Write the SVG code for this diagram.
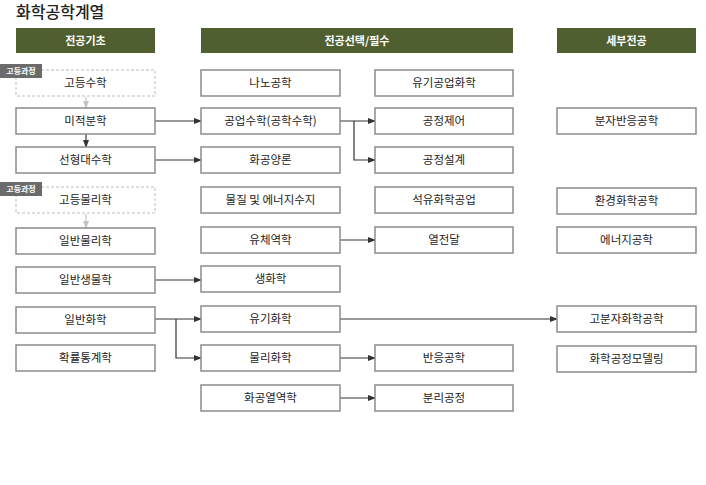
<svg xmlns="http://www.w3.org/2000/svg" width="706" height="485" viewBox="0 0 706 485">
<style>
text{font-family:"Noto Sans CJK KR","Noto Sans",sans-serif;}
.t{font-size:16px;fill:#222;font-weight:500;}
.h rect{fill:#4f5f30;}
.h text{fill:#fff;font-size:11px;text-anchor:middle;font-weight:bold;}
.n rect{fill:#fff;stroke:#8c8c8c;stroke-width:1.5;}
.n text{fill:#222;font-size:11.5px;text-anchor:middle;}
.d rect{fill:#fff;stroke:#bdbdbd;stroke-width:1;stroke-dasharray:3 2;}
.d text{fill:#222;font-size:11.5px;text-anchor:middle;}
.b rect{fill:#6b6b6b;}
.b text{fill:#fff;font-size:8px;text-anchor:middle;font-weight:bold;}
.c path{fill:none;stroke:#333;stroke-width:1.2;}
.c path.g{stroke:#c4c4c4;}
</style>
<defs>
<marker id="a" markerWidth="8" markerHeight="6" refX="7" refY="3" orient="auto" markerUnits="userSpaceOnUse"><path d="M0,0 L8,3 L0,6 Z" fill="#333"/></marker>
<marker id="ag" markerWidth="8" markerHeight="6" refX="7" refY="3" orient="auto" markerUnits="userSpaceOnUse"><path d="M0,0 L8,3 L0,6 Z" fill="#c4c4c4"/></marker>
</defs>
<text class="t" x="16" y="18">화학공학계열</text>
<g id="h1" class="h"><rect x="16" y="28" width="139" height="25"/><text x="85.5" y="44.5">전공기초</text></g>
<g id="h2" class="h"><rect x="201" y="28" width="312" height="25"/><text x="357" y="44.5">전공선택/필수</text></g>
<g id="h3" class="h"><rect x="557" y="28" width="139" height="25"/><text x="626.5" y="44.5">세부전공</text></g>

<g id="connectors" class="c">
<path class="g" d="M86,97 V108" marker-end="url(#ag)"/>
<path class="g" d="M86,214 V228" marker-end="url(#ag)"/>
<path d="M86,134 V147" marker-end="url(#a)"/>
<path d="M155,121 H201" marker-end="url(#a)"/>
<path d="M155,160 H201" marker-end="url(#a)"/>
<path d="M340,121 H375" marker-end="url(#a)"/>
<path d="M354,121 V160 H375" marker-end="url(#a)"/>
<path d="M340,240 H375" marker-end="url(#a)"/>
<path d="M155,280 H201" marker-end="url(#a)"/>
<path d="M155,319 H201" marker-end="url(#a)"/>
<path d="M176,319 V358 H201" marker-end="url(#a)"/>
<path d="M340,319 H557" marker-end="url(#a)"/>
<path d="M340,358 H375" marker-end="url(#a)"/>
<path d="M340,398 H375" marker-end="url(#a)"/>
</g>

<g id="n1" class="d"><rect x="16" y="70" width="139" height="26"/><text x="85.5" y="87">고등수학</text></g>
<g id="b1" class="b"><rect x="0" y="64" width="42" height="14"/><text x="21" y="74">고등과정</text></g>
<g id="n2" class="n"><rect x="16" y="108" width="139" height="26"/><text x="85.5" y="125">미적분학</text></g>
<g id="n3" class="n"><rect x="16" y="147" width="139" height="26"/><text x="85.5" y="164">선형대수학</text></g>
<g id="n4" class="d"><rect x="16" y="187" width="139" height="26"/><text x="85.5" y="204">고등물리학</text></g>
<g id="b2" class="b"><rect x="0" y="182" width="42" height="14"/><text x="21" y="192">고등과정</text></g>
<g id="n5" class="n"><rect x="16" y="228" width="139" height="26"/><text x="85.5" y="245">일반물리학</text></g>
<g id="n6" class="n"><rect x="16" y="267" width="139" height="26"/><text x="85.5" y="284">일반생물학</text></g>
<g id="n7" class="n"><rect x="16" y="307" width="139" height="26"/><text x="85.5" y="324">일반화학</text></g>
<g id="n8" class="n"><rect x="16" y="345" width="139" height="26"/><text x="85.5" y="362">확률통계학</text></g>

<g id="m1" class="n"><rect x="201" y="70" width="139" height="26"/><text x="270.5" y="87">나노공학</text></g>
<g id="m2" class="n"><rect x="201" y="108" width="139" height="26"/><text x="270.5" y="125">공업수학(공학수학)</text></g>
<g id="m3" class="n"><rect x="201" y="147" width="139" height="26"/><text x="270.5" y="164">화공양론</text></g>
<g id="m4" class="n"><rect x="201" y="187" width="139" height="26"/><text x="270.5" y="204">물질 및 에너지수지</text></g>
<g id="m5" class="n"><rect x="201" y="227" width="139" height="26"/><text x="270.5" y="244">유체역학</text></g>
<g id="m6" class="n"><rect x="201" y="266" width="139" height="26"/><text x="270.5" y="283">생화학</text></g>
<g id="m7" class="n"><rect x="201" y="306" width="139" height="26"/><text x="270.5" y="323">유기화학</text></g>
<g id="m8" class="n"><rect x="201" y="345" width="139" height="26"/><text x="270.5" y="362">물리화학</text></g>
<g id="m9" class="n"><rect x="201" y="385" width="139" height="26"/><text x="270.5" y="402">화공열역학</text></g>

<g id="r1" class="n"><rect x="375" y="70" width="138" height="26"/><text x="444" y="87">유기공업화학</text></g>
<g id="r2" class="n"><rect x="375" y="108" width="138" height="26"/><text x="444" y="125">공정제어</text></g>
<g id="r3" class="n"><rect x="375" y="147" width="138" height="26"/><text x="444" y="164">공정설계</text></g>
<g id="r4" class="n"><rect x="375" y="187" width="138" height="26"/><text x="444" y="204">석유화학공업</text></g>
<g id="r5" class="n"><rect x="375" y="227" width="138" height="26"/><text x="444" y="244">열전달</text></g>
<g id="r6" class="n"><rect x="375" y="345" width="138" height="26"/><text x="444" y="362">반응공학</text></g>
<g id="r7" class="n"><rect x="375" y="385" width="138" height="26"/><text x="444" y="402">분리공정</text></g>

<g id="s1" class="n"><rect x="557" y="108" width="139" height="26"/><text x="626.5" y="125">분자반응공학</text></g>
<g id="s2" class="n"><rect x="557" y="188" width="139" height="26"/><text x="626.5" y="205">환경화학공학</text></g>
<g id="s3" class="n"><rect x="557" y="227" width="139" height="26"/><text x="626.5" y="244">에너지공학</text></g>
<g id="s4" class="n"><rect x="557" y="306" width="139" height="26"/><text x="626.5" y="323">고분자화학공학</text></g>
<g id="s5" class="n"><rect x="557" y="346" width="139" height="26"/><text x="626.5" y="363">화학공정모델링</text></g>
</svg>
